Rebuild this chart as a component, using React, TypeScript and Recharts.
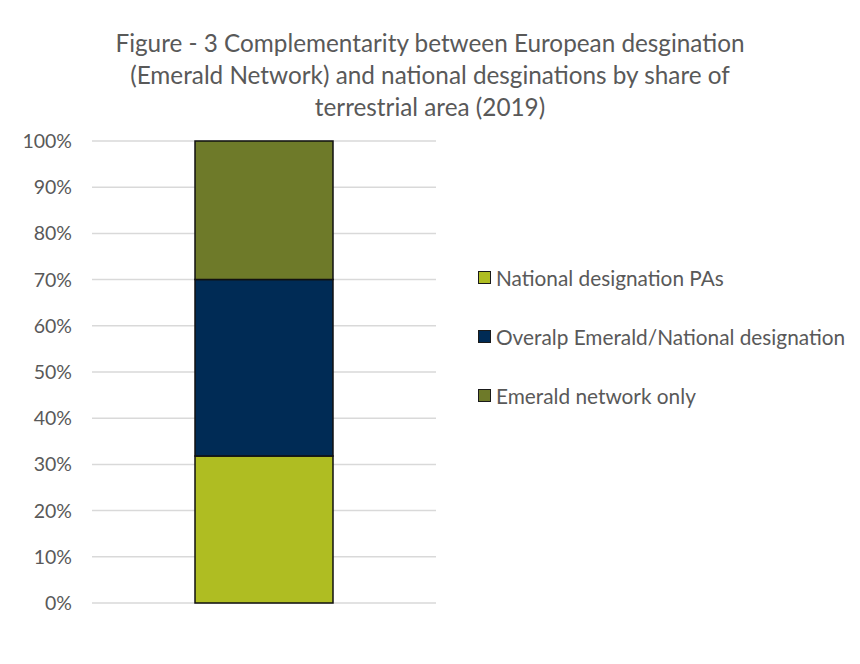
import { BarChart, Bar, CartesianGrid, XAxis, YAxis } from "recharts";

const categories = ["Terrestrial area (2019)"];
const nationalOnly = [31.8];
const overlap = [38.2];
const emeraldOnly = [30.0];
const yTicks = [0, 10, 20, 30, 40, 50, 60, 70, 80, 90, 100];

const series = [
  { key: "national", name: "National designation PAs", color: "#afbd22" },
  { key: "overlap", name: "Overalp Emerald/National designation", color: "#002b55" },
  { key: "emerald", name: "Emerald network only", color: "#6e7a29" },
];

const data = categories.map((name, i) => ({
  name,
  national: nationalOnly[i],
  overlap: overlap[i],
  emerald: emeraldOnly[i],
}));

const FONT = "Lato, 'Open Sans', sans-serif";
const GREY = "#595959";

export default function App() {
  return (
    <div style={{ position: "relative", width: 860, height: 664, margin: -8, background: "#fff", overflow: "hidden" }}>
      <svg width={860} height={664} style={{ position: "absolute", left: 0, top: 0 }}>
        <rect x={4.5} y={4.5} width={854} height={700} rx={3} fill="none" stroke="#d4d4d4" strokeWidth={1.5} />
      </svg>
      <div
        style={{
          position: "absolute",
          left: 0,
          top: 27,
          width: 860,
          textAlign: "center",
          fontFamily: FONT,
          fontSize: 24.3,
          lineHeight: "32px",
          color: GREY,
        }}
      >
        Figure - 3 Complementarity between European desgination
        <br />
        (Emerald Network) and national desginations by share of
        <br />
        terrestrial area (2019)
      </div>
      <div style={{ position: "absolute", left: 0, top: 0 }}>
        <BarChart
          width={860}
          height={664}
          data={data}
          margin={{ top: 141, right: 424, bottom: 61, left: 0 }}
        >
          <CartesianGrid vertical={false} stroke="#d9d9d9" strokeWidth={1.5} />
          <XAxis dataKey="name" hide />
          <YAxis
            width={92}
            domain={[0, 100]}
            ticks={yTicks}
            tickFormatter={(v: number) => `${v}%`}
            axisLine={false}
            tickLine={false}
            tickMargin={14}
            tick={{ fill: GREY, fontSize: 19.5, fontFamily: FONT }}
          />
          {series.map((s) => (
            <Bar
              key={s.key}
              dataKey={s.key}
              name={s.name}
              stackId="a"
              fill={s.color}
              stroke="#111"
              strokeWidth={1.5}
              barSize={138}
              isAnimationActive={false}
            />
          ))}
        </BarChart>
      </div>
      <div style={{ position: "absolute", left: 478, top: 248 }}>
        {series.map((s) => (
          <div
            key={s.key}
            style={{ display: "flex", alignItems: "center", height: 59, fontFamily: FONT, fontSize: 20.8, color: GREY, whiteSpace: "nowrap" }}
          >
            <span
              style={{
                display: "inline-block",
                width: 11,
                height: 11,
                background: s.color,
                border: "1px solid #1a1a1a",
                marginRight: 5,
              }}
            />
            {s.name}
          </div>
        ))}
      </div>
    </div>
  );
}
